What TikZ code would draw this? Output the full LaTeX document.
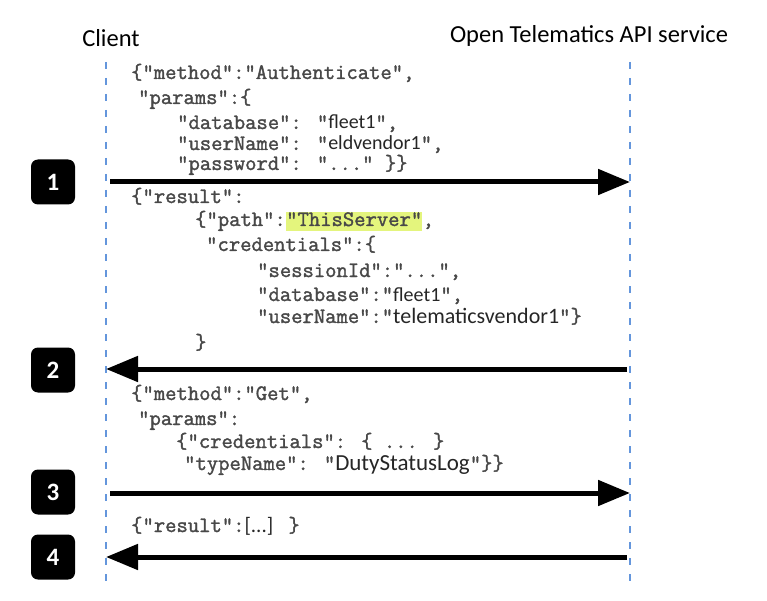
\documentclass[tikz,border=0pt]{standalone}
\usepackage{fontspec}
\setmainfont{Carlito}
\newfontfamily\codefont[FakeBold=1.6]{Latin Modern Mono}
\usetikzlibrary{arrows.meta,positioning}
\definecolor{lifeblue}{RGB}{100,150,220}
\definecolor{codegray}{RGB}{72,72,72}
\definecolor{hilite}{RGB}{228,245,125}
\newcommand{\val}[2][20]{{\rmfamily\fontsize{#1}{22}\selectfont\color{black!85} #2}}

\begin{document}
\begin{tikzpicture}[x=1pt,y=-1pt,
    lifeline/.style={lifeblue,line width=1.8pt,dash pattern=on 7pt off 9pt},
    msg/.style={line width=5pt,-{Triangle[length=32pt,width=25pt]}},
    badge/.style={fill=black,rounded corners=7pt,minimum width=44pt,minimum height=45pt,
        text=white,font=\fontsize{25}{27}\selectfont\bfseries},
    code/.style={anchor=base west,inner sep=0pt,text=codegray,font=\fontsize{22}{24}\selectfont\codefont},
    actor/.style={font=\fontsize{24.5}{28}\selectfont}]
        \useasboundingbox (0,0) rectangle (767,601);

        \node[actor] (client) at (111,38) {Client};
        \node[actor] (service) at (589,36) {Open Telematics API service};

        \coordinate (cl-top) at (106,62);
        \coordinate (cl-bot) at (106,582);
        \coordinate (sv-top) at (630,62);
        \coordinate (sv-bot) at (630,582);
        \draw [lifeline] (cl-top) -- (cl-bot);
        \draw [lifeline] (sv-top) -- (sv-bot);

        % authenticate request
        \node[code] (auth1) at (131,79) {\{"method":"Authenticate",};
        \node[code] (auth2) at (138,104) {"params":\{};
        \node[code] (auth3) at (177,129) {"database": "\val{fleet1}",};
        \node[code] (auth4) at (177,150) {"userName": "\val{eldvendor1}",};
        \node[code] (auth5) at (177,170) {"password": "..." \}\}};

        % authenticate result
        \node[code] (res1) at (131,203) {\{"result":};
        \node[code] (res2) at (195,226) {\{"path":};
        \node[code,fill=hilite,text height=14pt,text depth=5pt] (res2b) at (res2.base east) {"ThisServer"};
        \node[code] (res2c) at (res2b.base east) {,};
        \node[code] (res3) at (206,251) {"credentials":\{};
        \node[code] (res4) at (257,277) {"sessionId":"...",};
        \node[code] (res5) at (257,301) {"database":"\val{fleet1}",};
        \node[code] (res6) at (257,323) {"userName":"\val[22]{telematicsvendor1}"\}};
        \node[code] (res7) at (195,349) {\}};

        % get request
        \node[code] (get1) at (131,400) {\{"method":"Get",};
        \node[code] (get2) at (138,425) {"params":};
        \node[code] (get3) at (176,448) {\{"credentials": \{ ... \}};
        \node[code] (get4) at (184,470) {"typeName": "\val[23]{DutyStatusLog}"\}\}};

        % get result
        \node[code] (out1) at (131,532) {\{"result":\val[21]{[...]} \}};

        \coordinate (c1) at (110,182);  \coordinate (s1) at (630,182);
        \coordinate (c2) at (106,369);  \coordinate (s2) at (627,369);
        \coordinate (c3) at (110,493);  \coordinate (s3) at (630,493);
        \coordinate (c4) at (106,557);  \coordinate (s4) at (627,557);
        \draw [msg] (c1) -- (s1);
        \draw [msg] (s2) -- (c2);
        \draw [msg] (c3) -- (s3);
        \draw [msg] (s4) -- (c4);

        \node[badge] (b1) at (53,182) {1};
        \node[badge] (b2) at (53,370) {2};
        \node[badge] (b3) at (53,492) {3};
        \node[badge] (b4) at (53,557) {4};
    \end{tikzpicture}
\end{document}
